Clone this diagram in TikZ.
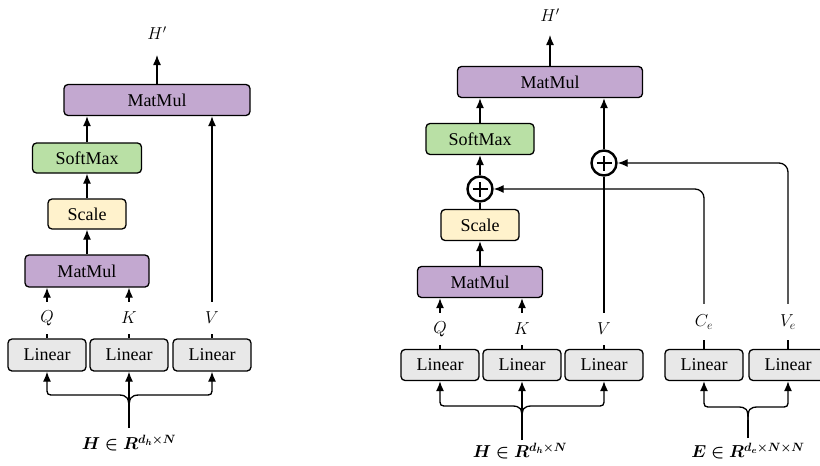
\documentclass[tikz,border=0pt]{standalone}
\usepackage{fontspec}
\setmainfont{Liberation Serif}
\usepackage{amsmath}
\usepackage{bm}
\usetikzlibrary{arrows.meta,calc}

\definecolor{mmfill}{RGB}{195,168,208}
\definecolor{smfill}{RGB}{185,224,165}
\definecolor{scfill}{RGB}{255,242,204}
\definecolor{linfill}{RGB}{232,232,232}

\tikzset{
  blk/.style={draw=black, line width=1.3pt, rounded corners=4pt, inner sep=0pt,
              minimum height=31pt, font=\fontsize{18}{20}\selectfont},
  mmbox/.style={blk, fill=mmfill},
  smbox/.style={blk, fill=smfill},
  scbox/.style={blk, fill=scfill, minimum width=78pt},
  linbox/.style={blk, fill=linfill, minimum width=78pt},
  lbl/.style={inner sep=0pt, font=\fontsize{18}{20}\selectfont},
  gap/.style={lbl, minimum height=32pt},
  arr/.style={line width=1.3pt, -{Latex[length=10pt,width=8pt]}},
  ln/.style={line width=1.3pt},
  plus/.style={circle, draw=black, line width=2.4pt, minimum size=25pt, inner sep=0pt,
    path picture={
      \draw[line width=2.4pt] ([xshift=-7.5pt]path picture bounding box.center) -- ([xshift=7.5pt]path picture bounding box.center);
      \draw[line width=2.4pt] ([yshift=-7.5pt]path picture bounding box.center) -- ([yshift=7.5pt]path picture bounding box.center);
    }},
}

\begin{document}
\begin{tikzpicture}[x=1pt,y=-1pt]
\clip (0,0) rectangle (820,466);
\useasboundingbox (0,0) rectangle (820,466);

% ---------- plain self-attention ----------
\node[lbl] (hpL) at (157,33) {$H'$};
\coordinate (outL) at (157,55);
\node[mmbox, minimum width=186pt] (mmTL) at (157,100) {MatMul};
\node[smbox, minimum width=109pt, minimum height=30pt] (smL) at (87,158) {SoftMax};
\node[scbox, minimum height=30pt] (scL) at (87,214) {Scale};
\node[mmbox, minimum width=124pt, minimum height=32pt] (mmBL) at (87,271) {MatMul};
\node[gap] (qL) at (47,318) {$Q$};
\node[gap] (kL) at (129,318) {$K$};
\node[gap] (vL) at (212,318) {$V$};
\node[linbox, minimum height=32pt] (l1) at (47,355) {Linear};
\node[linbox, minimum height=32pt] (l2) at (129,355) {Linear};
\node[linbox, minimum height=32pt] (l3) at (212,355) {Linear};
\node[lbl] (inHL) at (129,443) {$\bm{H\in R^{d_h\times N}}$};
\coordinate (stL) at (129,428);

\draw[arr] (mmTL.north) -- (outL);
\draw[arr] (smL.north) -- (smL.north |- mmTL.south);
\draw[arr] (scL.north) -- (smL.south);
\draw[arr] (mmBL.north) -- (scL.south);
\draw[ln] (l1.north) -- (qL.south);
\draw[arr] (qL.north) -- (qL.north |- mmBL.south);
\draw[ln] (l2.north) -- (kL.south);
\draw[arr] (kL.north) -- (kL.north |- mmBL.south);
\draw[ln] (l3.north) -- (vL.south);
\draw[arr] (vL.north) -- (vL.north |- mmTL.south);

% input fork
\draw[arr] (stL) -- (l2.south);
\draw[arr] (129,411) .. controls (129,398) and (128,395) .. (118,395) -- (55,395)
  .. controls (47,395) .. (47,387) -- (l1.south);
\draw[arr] (129,411) .. controls (129,398) and (130,395) .. (140,395) -- (204,395)
  .. controls (212,395) .. (212,387) -- (l3.south);

% ---------- attention with edge features ----------
\node[lbl] (hpR) at (550,15) {$H'$};
\coordinate (outR) at (550,35);
\node[mmbox, minimum width=185pt] (mmTR) at (550,82) {MatMul};
\node[smbox, minimum width=108pt] (smR) at (480,139) {SoftMax};
\node[plus] (pQ) at (480,189) {};
\node[plus] (pV) at (604,163) {};
\node[scbox] (scR) at (480,225) {Scale};
\node[mmbox, minimum width=125pt] (mmBR) at (480,282) {MatMul};
\node[gap] (qR) at (440,329) {$Q$};
\node[gap] (kR) at (522,329) {$K$};
\node[gap] (vR) at (604,329) {$V$};
\node[gap, minimum height=36pt] (ce) at (704,322) {$C_e$};
\node[gap, minimum height=36pt] (ve) at (788,322) {$V_e$};
\node[linbox] (l4) at (440,365) {Linear};
\node[linbox] (l5) at (522,365) {Linear};
\node[linbox] (l6) at (604,365) {Linear};
\node[linbox] (l7) at (704,365) {Linear};
\node[linbox] (l8) at (788,365) {Linear};
\node[lbl] (inHR) at (520,451) {$\bm{H\in R^{d_h\times N}}$};
\node[lbl] (inE) at (748,451) {$\bm{E\in R^{d_e\times N\times N}}$};
\coordinate (stR) at (522,440);
\coordinate (stE) at (748,438);

\draw[arr] (mmTR.north) -- (outR);
\draw[arr] (smR.north) -- (smR.north |- mmTR.south);
\draw[arr] (pQ.north) -- (smR.south);
\draw[ln] (scR.north) -- (pQ.south);
\draw[arr] (mmBR.north) -- (scR.south);
\draw[ln] (l4.north) -- (qR.south);
\draw[arr] (qR.north) -- (qR.north |- mmBR.south);
\draw[ln] (l5.north) -- (kR.south);
\draw[arr] (kR.north) -- (kR.north |- mmBR.south);
\draw[ln] (l6.north) -- (vR.south);
\draw[ln] (vR.north) -- (pV.south);
\draw[arr] (pV.north) -- (pV.north |- mmTR.south);

% edge branches into the two sums
\draw[ln] (l7.north) -- (ce.south);
\draw[ln] (l8.north) -- (ve.south);
\draw[arr, rounded corners=9pt] (ce.north) |- (pQ.east);
\draw[arr, rounded corners=9pt] (ve.north) |- (pV.east);

% input forks
\draw[arr] (stR) -- (l5.south);
\draw[arr] (522,421) .. controls (522,408) and (521,406) .. (511,406) -- (448,406)
  .. controls (440,406) .. (440,398) -- (l4.south);
\draw[arr] (522,421) .. controls (522,408) and (523,406) .. (533,406) -- (596,406)
  .. controls (604,406) .. (604,398) -- (l6.south);

\draw[ln] (stE) -- (748,420);
\draw[arr] (748,421) .. controls (748,409) and (747,407) .. (737,407) -- (712,407)
  .. controls (704,407) .. (704,399) -- (l7.south);
\draw[arr] (748,421) .. controls (748,409) and (749,407) .. (759,407) -- (780,407)
  .. controls (788,407) .. (788,399) -- (l8.south);
\end{tikzpicture}
\end{document}
